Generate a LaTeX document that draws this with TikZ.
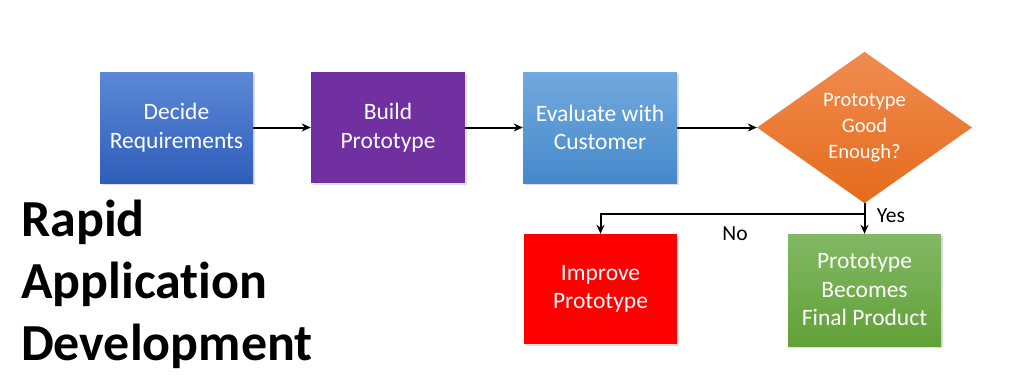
\documentclass[tikz,border=0pt]{standalone}
\usepackage{fontspec}
\setmainfont{Carlito}[Ligatures={NoCommon}]
\usetikzlibrary{shapes.geometric,arrows.meta,shadows}
\definecolor{reqTop}{HTML}{5C88D6}
\definecolor{reqBot}{HTML}{2F5EBA}
\definecolor{bldCol}{HTML}{7030A0}
\definecolor{evTop}{HTML}{72A9DE}
\definecolor{evBot}{HTML}{4589CB}
\definecolor{dmTop}{HTML}{F08C50}
\definecolor{dmBot}{HTML}{E56B1B}
\definecolor{fnTop}{HTML}{82B864}
\definecolor{fnBot}{HTML}{61A137}
\tikzset{
  box/.style={rectangle, inner sep=0pt, minimum width=153pt, minimum height=111pt,
    text=white, align=center, font=\fontsize{23.5}{28.5}\selectfont,
    drop shadow={shadow xshift=1.5pt, shadow yshift=-1.5pt, opacity=0.25}},
  decision/.style={diamond, inner sep=0pt, minimum width=215pt, minimum height=140pt,
    text=white, align=center, font=\fontsize{20.5}{26}\selectfont,
    top color=dmTop, bottom color=dmBot},
  conn/.style={line width=2pt, -{Stealth[length=9pt,width=8pt]}},
  lbl/.style={font=\fontsize{21.5}{24}\selectfont, text=black, inner sep=0pt},
}
\begin{document}
\begin{tikzpicture}[x=1pt,y=-1pt]
\useasboundingbox[fill=white] (0,0) rectangle (1024,384);
\node[box, top color=reqTop, bottom color=reqBot] (req) at (176.5,127.5) {Decide\\Requirements};
\node[box, fill=bldCol, minimum width=154pt] (bld) at (388,127.5) {Build\\Prototype};
\node[box, top color=evTop, bottom color=evBot, minimum width=154pt] (ev) at (600,127.5) {Evaluate with\\Customer};
\node[decision] (dec) at (864.5,127.5) {Prototype\\Good\\Enough?};
\node[box, fill=red, minimum height=110pt] (imp) at (600.5,289) {Improve\\Prototype};
\node[box, top color=fnTop, bottom color=fnBot, minimum height=112pt] (fin) at (864.5,290) {Prototype\\Becomes\\Final Product};
\coordinate (split) at (864.5,214);
\draw[conn] (req.east) -- (bld.west);
\draw[conn] (bld.east) -- (ev.west);
\draw[conn] (ev.east) -- (dec.west);
\draw[conn] (dec.south) -- (split) -| (imp.north);
\draw[conn] (dec.south) -- (fin.north);
\node[lbl] (yes) at (891,216) {Yes};
\node[lbl] (no) at (735,234) {No};
\node[anchor=north west, align=left, inner sep=0pt, font=\bfseries\fontsize{52}{62}\selectfont] (title) at (21,200) {Rapid\\Application\\Development};
\end{tikzpicture}
\end{document}
